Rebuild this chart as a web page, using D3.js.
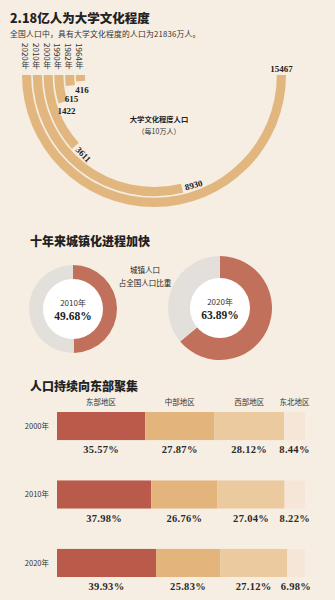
<!DOCTYPE html>
<html>
<head>
<meta charset="utf-8">
<script src="https://cdn.jsdelivr.net/npm/d3@7"></script>
<style>
  body { margin: 0; background: #f6eee2; }
  svg { display: block; }
  .cjk { font-family: "Noto Sans CJK SC", sans-serif; }
  .num { font-family: "Liberation Serif", "Noto Sans CJK SC", serif; font-weight: bold; }
</style>
</head>
<body>
<div id="chart"></div>
<script>
// data
var eduYears = ["1964年", "1982年", "1990年", "2000年", "2010年", "2020年"];
var eduValues = [416, 615, 1422, 3611, 8930, 15467];

var urbanYears = ["2010年", "2020年"];
var urbanRates = [49.68, 63.89];

var regions = ["东部地区", "中部地区", "西部地区", "东北地区"];
var barYears = ["2000年", "2010年", "2020年"];
var eastShare = [35.57, 37.98, 39.93];
var centralShare = [27.87, 26.76, 25.83];
var westShare = [28.12, 27.04, 27.12];
var northeastShare = [8.44, 8.22, 6.98];

var width = 335, height = 600;
var tan = "#e1b77f";
var red = "#c1705b";

var svg = d3.select("#chart").append("svg")
    .attr("width", width)
    .attr("height", height);

svg.append("rect").attr("width", width).attr("height", height).attr("fill", "#f6eee2");

// ---------- section 1: radial bars ----------
svg.append("text").attr("class", "cjk")
    .attr("x", 10).attr("y", 23)
    .attr("font-size", 12.5).attr("font-weight", 900).attr("fill", "#222")
    .text("2.18亿人为大学文化程度");

svg.append("text").attr("class", "cjk")
    .attr("x", 10).attr("y", 37)
    .attr("font-size", 7.8).attr("letter-spacing", 0.2).attr("fill", "#333")
    .text("全国人口中，具有大学文化程度的人口为21836万人。");

var cx = 154, cy = 75;
var g1 = svg.append("g").attr("transform", "translate(" + cx + "," + cy + ")");

var angle = d3.scaleLinear().domain([0, d3.max(eduValues)]).range([0, Math.PI]);
var radius = d3.scaleBand().domain(eduYears).range([69, 132]).paddingInner(0.15);

var eduData = eduYears.map(function (y, i) { return { year: y, value: eduValues[i] }; });

var arc = d3.arc()
    .innerRadius(function (d) { return radius(d.year); })
    .outerRadius(function (d) { return radius(d.year) + radius.bandwidth(); })
    .startAngle(function (d) { return 1.5 * Math.PI - angle(d.value); })
    .endAngle(1.5 * Math.PI);

g1.selectAll("path.edu")
    .data(eduData)
    .enter()
    .append("path")
    .attr("class", "edu")
    .attr("d", arc)
    .attr("fill", tan);

// vertical year labels above each ring
g1.selectAll("text.year")
    .data(eduData)
    .enter()
    .append("text")
    .attr("class", "year cjk")
    .attr("x", function (d) { return -(radius(d.year) + radius.bandwidth() / 2) - 1; })
    .attr("y", -32)
    .attr("font-size", 8)
    .attr("fill", "#333")
    .style("writing-mode", "vertical-rl")
    .text(function (d) { return d.year; });

// value labels
function endPoint(d, r, extra) {
  var phi = angle(d.value) + extra / r;
  return [-r * Math.cos(phi), r * Math.sin(phi), phi];
}

var lastBase = -Infinity;
g1.selectAll("text.val")
    .data(eduData)
    .enter()
    .append("text")
    .attr("class", "val num")
    .attr("font-size", 9)
    .attr("fill", "#222")
    .each(function (d) {
      var t = d3.select(this).text(d.value);
      var outer = radius(d.year) + radius.bandwidth();
      if (d.value === d3.max(eduValues)) {
        t.attr("x", outer - radius.bandwidth() / 2).attr("y", -3).attr("text-anchor", "middle");
      } else if (d.value < 2000) {
        // small values: horizontal label under the end of the bar, stacked so they don't collide
        var p = endPoint(d, outer, 0);
        var base = Math.max(p[1] + 11, lastBase + 9.5);
        lastBase = base;
        t.attr("x", p[0] - 1).attr("y", base).attr("text-anchor", "start");
      } else {
        var mid = radius(d.year) + radius.bandwidth() / 2;
        var q = endPoint(d, mid, 3);
        var rot = Math.atan2(Math.cos(q[2]), Math.sin(q[2])) * 180 / Math.PI;
        t.attr("transform", "translate(" + q[0] + "," + q[1] + ") rotate(" + rot + ")")
          .attr("dy", "0.35em")
          .attr("text-anchor", "start");
      }
    });

g1.append("text").attr("class", "cjk")
    .attr("x", 5).attr("y", 47)
    .attr("text-anchor", "middle").attr("font-size", 7.3).attr("font-weight", "bold").attr("fill", "#222")
    .text("大学文化程度人口");
g1.append("text").attr("class", "cjk")
    .attr("x", 5).attr("y", 59)
    .attr("text-anchor", "middle").attr("font-size", 7).attr("fill", "#333")
    .text("（每10万人）");

// ---------- section 2: donuts ----------
svg.append("text").attr("class", "cjk")
    .attr("x", 30).attr("y", 246)
    .attr("font-size", 12).attr("font-weight", 900).attr("fill", "#222")
    .text("十年来城镇化进程加快");

var donutCenters = [[73, 309], [220, 308]];
var donutOuter = [44, 52];
var donutInner = 30;
var pie = d3.pie().sort(null);

urbanRates.forEach(function (rate, i) {
  var g = svg.append("g")
      .attr("transform", "translate(" + donutCenters[i][0] + "," + donutCenters[i][1] + ")");
  var donutArc = d3.arc().innerRadius(donutInner - 1).outerRadius(donutOuter[i]);
  g.selectAll("path")
      .data(pie([rate, 100 - rate]))
      .enter()
      .append("path")
      .attr("d", donutArc)
      .attr("fill", function (d, j) { return j === 0 ? red : "#e3e0dc"; });
  g.append("circle").attr("r", donutInner).attr("fill", "#ffffff");
  g.append("text").attr("class", "cjk")
      .attr("y", -3).attr("text-anchor", "middle")
      .attr("font-size", 8).attr("fill", "#333")
      .text(urbanYears[i]);
  g.append("text").attr("class", "num")
      .attr("y", 11).attr("text-anchor", "middle")
      .attr("font-size", 11.5).attr("fill", "#222")
      .text(d3.format(".2f")(rate) + "%");
});

svg.append("text").attr("class", "cjk")
    .attr("x", 145).attr("y", 273).attr("text-anchor", "middle")
    .attr("font-size", 7.5).attr("fill", "#222")
    .text("城镇人口");
svg.append("text").attr("class", "cjk")
    .attr("x", 145).attr("y", 286).attr("text-anchor", "middle")
    .attr("font-size", 7.5).attr("fill", "#222")
    .text("占全国人口比重");

// ---------- section 3: stacked bars ----------
svg.append("text").attr("class", "cjk")
    .attr("x", 30).attr("y", 391)
    .attr("font-size", 12).attr("font-weight", 900).attr("fill", "#222")
    .text("人口持续向东部聚集");

var shares = [eastShare, centralShare, westShare, northeastShare];
var rows = barYears.map(function (y, i) {
  var row = { year: y };
  regions.forEach(function (r, k) { row[r] = shares[k][i]; });
  return row;
});

var stack = d3.stack().keys(regions);
var series = stack(rows);

var x = d3.scaleLinear().domain([0, 100]).range([57, 305]);
var y = d3.scaleBand().domain(barYears).range([412, 577]).paddingInner(0.59).paddingOuter(0);
var barColor = d3.scaleOrdinal().domain(regions).range(["#b95a4b", "#e3b57d", "#ebcaa0", "#f5e6d8"]);

var layers = svg.selectAll("g.layer")
    .data(series)
    .enter()
    .append("g")
    .attr("class", "layer")
    .attr("fill", function (d) { return barColor(d.key); });

layers.selectAll("rect")
    .data(function (d) { return d; })
    .enter()
    .append("rect")
    .attr("x", function (d) { return x(d[0]); })
    .attr("y", function (d) { return y(d.data.year); })
    .attr("width", function (d) { return x(d[1]) - x(d[0]); })
    .attr("height", y.bandwidth());

function labelX(d) {
  return Math.min((x(d[0]) + x(d[1])) / 2, x(100) - 3);
}

layers.selectAll("text")
    .data(function (d) { return d; })
    .enter()
    .append("text")
    .attr("class", "num")
    .attr("x", labelX)
    .attr("y", function (d) { return y(d.data.year) + y.bandwidth() + 13; })
    .attr("text-anchor", "middle")
    .attr("font-size", 10.5)
    .attr("letter-spacing", 0.3)
    .attr("fill", "#2a2a2a")
    .text(function (d) { return d3.format(".2f")(d[1] - d[0]) + "%"; });

// region headers, placed over the first row's segments
svg.selectAll("text.region")
    .data(series)
    .enter()
    .append("text")
    .attr("class", "region cjk")
    .attr("x", function (d) { return Math.min(labelX(d[0]), x(100) - 1); })
    .attr("y", 405)
    .attr("text-anchor", "middle")
    .attr("font-size", 7.5)
    .attr("fill", "#333")
    .text(function (d) { return d.key; });

svg.selectAll("text.barYear")
    .data(barYears)
    .enter()
    .append("text")
    .attr("class", "barYear cjk")
    .attr("x", 49)
    .attr("y", function (d) { return y(d) + y.bandwidth() / 2; })
    .attr("dy", "0.35em")
    .attr("text-anchor", "end")
    .attr("font-size", 7.5)
    .attr("fill", "#333")
    .text(function (d) { return d; });
</script>
</body>
</html>
